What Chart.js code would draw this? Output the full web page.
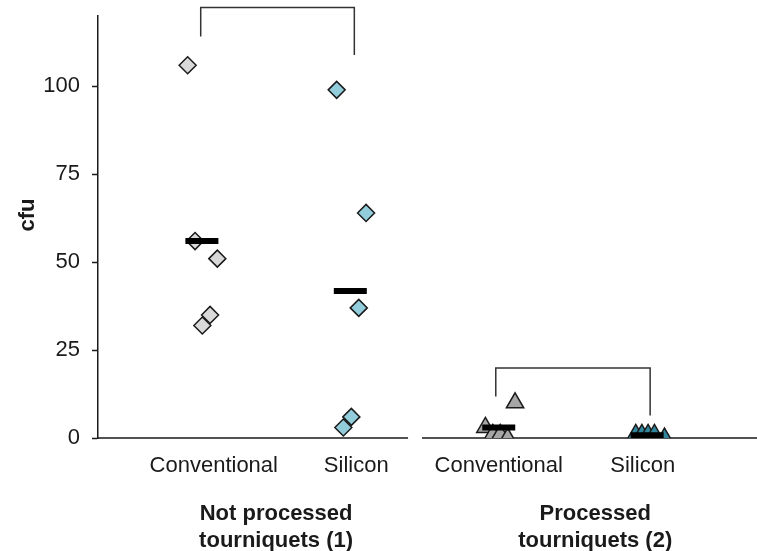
<!DOCTYPE html>
<html>
<head>
<meta charset="utf-8">
<script src="https://cdn.jsdelivr.net/npm/chart.js@4"></script>
<style>
    html, body { margin: 0; padding: 0; background: #fff; }
    #wrap { width: 757px; height: 551px; position: relative; }
</style>
</head>
<body>
<div id="wrap"><canvas id="chart"></canvas></div>
<script>
    // category labels under the axis and where they sit (x units)
    const categoryLabels = ["Conventional", "Silicon", "Conventional", "Silicon"];
    const categoryLabelX = [1.08, 2.04, 3.0, 3.97];
    const groupLabels = [["Not processed", "tourniquets (1)"], ["Processed", "tourniquets (2)"]];
    const groupLabelX = [1.5, 3.65];
    const yTicks = [0, 25, 50, 75, 100];

    // not processed tourniquets, conventional
    const conv1X = [0.904, 0.954, 1.104, 1.055, 1.003];
    const conv1Y = [106, 56, 51, 35, 32];
    // not processed tourniquets, silicon
    const sil1X = [1.908, 2.106, 2.057, 2.007, 1.953];
    const sil1Y = [99, 64, 37, 6, 3];
    // processed tourniquets, conventional
    const conv2X = [3.11, 2.91, 2.96, 3.01, 3.06];
    const conv2Y = [10, 3, 1, 1, 0];
    // processed tourniquets, silicon
    const sil2X = [3.923, 3.964, 4.006, 4.049, 4.117];
    const sil2Y = [1, 1, 1, 1, 0];

    // group means
    const meanX = [1.0, 2.0, 3.0, 4.0];
    const meanY = [56, 41.8, 3.0, 0.8];

    // comparison brackets
    const bracket1X = [0.992, 0.992, 2.027, 2.027];
    const bracket1Y = [114.2, 122.4, 122.4, 108.9];
    const bracket2X = [2.98, 2.98, 4.02, 4.02];
    const bracket2Y = [11.8, 19.9, 19.9, 6.4];

    // the baseline is broken between the two groups
    const baselineBreak = [2.389, 2.483];

    const FONT = '"Liberation Sans", Arial, sans-serif';
    const INK = '#1a1a1a';

    function pts(xs, ys) {
        return xs.map((x, i) => ({ x: x, y: ys[i] }));
    }

    function markers(xs, ys, style, fill, radius) {
        return {
            type: 'scatter',
            data: pts(xs, ys),
            pointStyle: style,
            pointRadius: radius,
            pointHoverRadius: radius,
            backgroundColor: fill,
            borderColor: INK,
            borderWidth: 1.5,
            order: 2
        };
    }

    function bracket(xs, ys) {
        return {
            type: 'scatter',
            data: pts(xs, ys),
            showLine: true,
            pointRadius: 0,
            borderColor: '#333',
            borderWidth: 1.5,
            fill: false,
            clip: false,
            order: 3
        };
    }

    const extras = {
        id: 'extras',
        beforeDatasetsDraw(chart) {
            const ctx = chart.ctx;
            const xs = chart.scales.x;
            const ys = chart.scales.y;
            const area = chart.chartArea;
            const y0 = ys.getPixelForValue(0);
            ctx.save();
            ctx.strokeStyle = INK;
            ctx.lineWidth = 1.5;
            ctx.beginPath();
            ctx.moveTo(area.left, y0);
            ctx.lineTo(xs.getPixelForValue(baselineBreak[0]), y0);
            ctx.moveTo(xs.getPixelForValue(baselineBreak[1]), y0);
            ctx.lineTo(area.right, y0);
            ctx.stroke();
            ctx.restore();
        },
        afterDraw(chart) {
            const ctx = chart.ctx;
            const xs = chart.scales.x;
            const area = chart.chartArea;
            ctx.save();
            ctx.fillStyle = INK;
            ctx.textAlign = 'center';
            ctx.textBaseline = 'middle';
            ctx.font = '22px ' + FONT;
            categoryLabels.forEach((t, i) => {
                ctx.fillText(t, xs.getPixelForValue(categoryLabelX[i]), area.bottom + 28);
            });
            ctx.font = 'bold 22px ' + FONT;
            groupLabels.forEach((lines, i) => {
                const x = xs.getPixelForValue(groupLabelX[i]);
                ctx.fillText(lines[0], x, area.bottom + 76);
                ctx.fillText(lines[1], x, area.bottom + 103);
            });
            ctx.translate(28, 215);
            ctx.rotate(-Math.PI / 2);
            ctx.fillText('cfu', 0, 0);
            ctx.restore();
        }
    };

    new Chart(document.getElementById('chart'), {
        type: 'scatter',
        data: {
            datasets: [
                {
                    type: 'scatter',
                    data: pts(meanX, meanY),
                    pointStyle: 'line',
                    pointRadius: 16.5,
                    pointHoverRadius: 16.5,
                    borderColor: '#000',
                    borderWidth: 6,
                    order: 1
                },
                markers(conv1X, conv1Y, 'rectRot', '#d9d9d9', 8.5),
                markers(sil1X, sil1Y, 'rectRot', '#92cddc', 8.5),
                markers(conv2X, conv2Y, 'triangle', '#a6a6a6', 10),
                markers(sil2X, sil2Y, 'triangle', '#31859c', 10),
                bracket(bracket1X, bracket1Y),
                bracket(bracket2X, bracket2Y)
            ]
        },
        options: {
            responsive: true,
            maintainAspectRatio: false,
            animation: false,
            events: [],
            layout: { autoPadding: false, padding: { top: 16, right: 0, bottom: 113, left: 0 } },
            plugins: {
                legend: { display: false },
                tooltip: { enabled: false }
            },
            scales: {
                x: {
                    type: 'linear',
                    min: 0.3,
                    max: 4.74,
                    display: false
                },
                y: {
                    min: 0,
                    max: 120,
                    afterBuildTicks: (scale) => {
                        scale.ticks = yTicks.map(v => ({ value: v }));
                    },
                    afterFit: (scale) => {
                        scale.width = 98;
                        scale.paddingTop = 0;
                        scale.paddingBottom = 0;
                    },
                    border: { display: true, color: INK, width: 1.5 },
                    grid: {
                        drawOnChartArea: false,
                        drawTicks: true,
                        tickLength: 6,
                        tickWidth: 1.5,
                        tickColor: INK
                    },
                    ticks: {
                        padding: 12,
                        color: INK,
                        font: { family: FONT, size: 22 }
                    }
                }
            }
        },
        plugins: [extras]
    });
</script>
</body>
</html>
